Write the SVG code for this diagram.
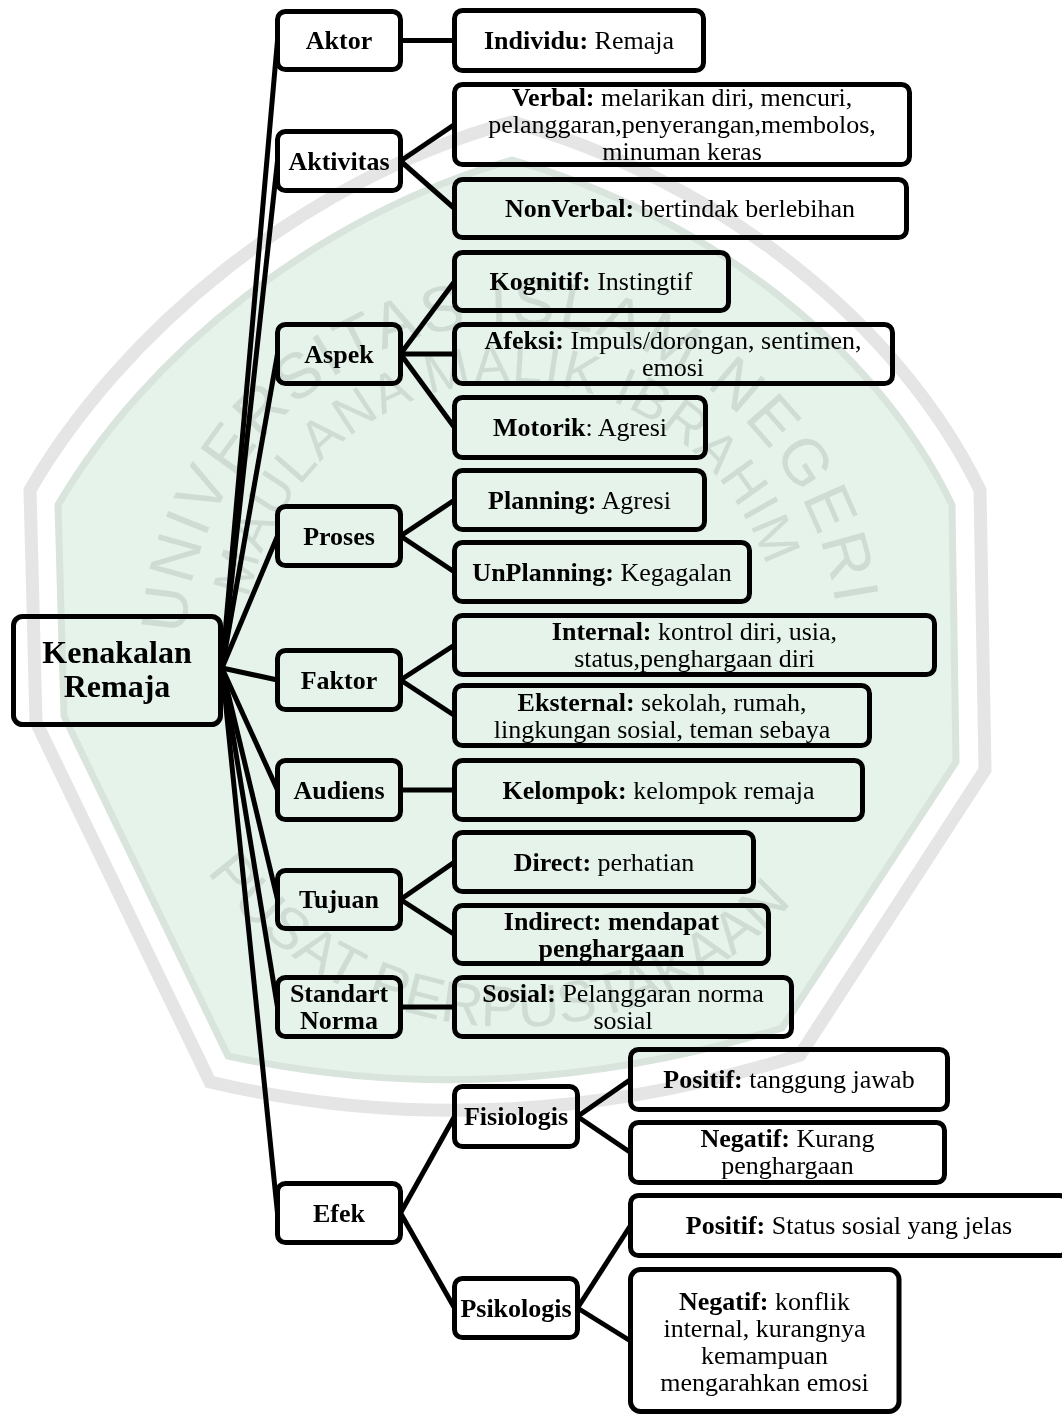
<svg xmlns="http://www.w3.org/2000/svg" width="1062" height="1415" viewBox="0 0 1062 1415">
<defs>
<style>
.box{fill:#fff;stroke:#000;stroke-width:5}
.conn line{stroke:#000;stroke-width:5;fill:none}
text{font-family:"Liberation Serif","Times New Roman",serif;font-size:26px;fill:#000;text-anchor:middle}
.b{font-weight:bold}
.root{font-size:32px;font-weight:bold}
text.wm{font-family:"Liberation Sans",Arial,sans-serif;fill:#cfdcd3;text-anchor:start}
text.wm1{font-size:64px;letter-spacing:3px}
text.wm2{font-size:54px;letter-spacing:1.5px}
text.wm3{font-size:58px}
</style>
<path id="arcOuter" d="M 185.4,634.6 A 327 327 0 0 1 839,650"/>
<path id="arcInner" d="M 248.9,598.9 A 268 268 0 0 1 779,626.6"/>
<path id="arcBottom" d="M 207,871.6 A 377 377 0 0 0 820.8,866.2"/>
</defs>
<rect width="1062" height="1415" fill="#fff"/>

<g id="connectors" class="conn">
<line x1="222" y1="668" x2="277.5" y2="40.5"/>
<line x1="222" y1="668" x2="277.5" y2="161"/>
<line x1="222" y1="668" x2="277.5" y2="354"/>
<line x1="222" y1="668" x2="277.5" y2="536"/>
<line x1="222" y1="668" x2="277.5" y2="680"/>
<line x1="222" y1="668" x2="277.5" y2="790"/>
<line x1="222" y1="668" x2="277.5" y2="899.5"/>
<line x1="222" y1="668" x2="277.5" y2="1007"/>
<line x1="222" y1="668" x2="277.5" y2="1213"/>
<line x1="400.5" y1="40.5" x2="454.5" y2="40.5"/>
<line x1="400.5" y1="161" x2="454.5" y2="124.5"/>
<line x1="400.5" y1="161" x2="454.5" y2="208.5"/>
<line x1="400.5" y1="354" x2="454.5" y2="281.5"/>
<line x1="400.5" y1="354" x2="454.5" y2="354"/>
<line x1="400.5" y1="354" x2="454.5" y2="427.5"/>
<line x1="400.5" y1="536" x2="454.5" y2="500"/>
<line x1="400.5" y1="536" x2="454.5" y2="572"/>
<line x1="400.5" y1="680" x2="454.5" y2="645"/>
<line x1="400.5" y1="680" x2="454.5" y2="715.5"/>
<line x1="400.5" y1="790" x2="454.5" y2="790"/>
<line x1="400.5" y1="899.5" x2="454.5" y2="862"/>
<line x1="400.5" y1="899.5" x2="454.5" y2="934.5"/>
<line x1="400.5" y1="1007" x2="454.5" y2="1007"/>
<line x1="400.5" y1="1213" x2="454.5" y2="1116.5"/>
<line x1="400.5" y1="1213" x2="454.5" y2="1308"/>
<line x1="577.5" y1="1116.5" x2="630.5" y2="1079.5"/>
<line x1="577.5" y1="1116.5" x2="630.5" y2="1152.5"/>
<line x1="577.5" y1="1308" x2="630.5" y2="1225.5"/>
<line x1="577.5" y1="1308" x2="630.5" y2="1341"/>
</g>

<g id="root">
<rect class="box" x="13.5" y="616.5" width="207" height="108" rx="9"/>
<text class="root" x="117" y="663">Kenakalan</text>
<text class="root" x="117" y="697">Remaja</text>
</g>

<g id="aktor"><rect class="box" x="277.5" y="11.5" width="123" height="58" rx="8"/><text class="b" x="339" y="49">Aktor</text></g>
<g id="aktivitas"><rect class="box" x="277.5" y="131.5" width="123" height="59" rx="8"/><text class="b" x="339" y="169.5">Aktivitas</text></g>
<g id="aspek"><rect class="box" x="277.5" y="324.5" width="123" height="59" rx="8"/><text class="b" x="339" y="362.5">Aspek</text></g>
<g id="proses"><rect class="box" x="277.5" y="506.5" width="123" height="59" rx="8"/><text class="b" x="339" y="544.5">Proses</text></g>
<g id="faktor"><rect class="box" x="277.5" y="650.5" width="123" height="59" rx="8"/><text class="b" x="339" y="688.5">Faktor</text></g>
<g id="audiens"><rect class="box" x="277.5" y="760.5" width="123" height="59" rx="8"/><text class="b" x="339" y="798.5">Audiens</text></g>
<g id="tujuan"><rect class="box" x="277.5" y="870.5" width="123" height="58" rx="8"/><text class="b" x="339" y="908">Tujuan</text></g>
<g id="standart"><rect class="box" x="277.5" y="977.5" width="123" height="59" rx="8"/><text class="b" x="339" y="1002">Standart</text><text class="b" x="339" y="1029">Norma</text></g>
<g id="efek"><rect class="box" x="277.5" y="1183.5" width="123" height="59" rx="8"/><text class="b" x="339" y="1221.5">Efek</text></g>

<g id="individu"><rect class="box" x="454.5" y="10.5" width="249" height="60" rx="8"/><text x="579" y="49"><tspan class="b">Individu:</tspan> Remaja</text></g>
<g id="verbal"><rect class="box" x="454.5" y="84.5" width="455" height="80" rx="8"/>
<text x="682" y="106"><tspan class="b">Verbal:</tspan> melarikan diri, mencuri,</text>
<text x="682" y="133">pelanggaran,penyerangan,membolos,</text>
<text x="682" y="160">minuman keras</text></g>
<g id="nonverbal"><rect class="box" x="454.5" y="179.5" width="452" height="58" rx="8"/><text x="680" y="217"><tspan class="b">NonVerbal:</tspan> bertindak berlebihan</text></g>
<g id="kognitif"><rect class="box" x="454.5" y="252.5" width="274" height="58" rx="8"/><text x="591" y="290"><tspan class="b">Kognitif:</tspan> Instingtif</text></g>
<g id="afeksi"><rect class="box" x="454.5" y="324.5" width="438" height="59" rx="8"/>
<text x="673" y="349"><tspan class="b">Afeksi:</tspan> Impuls/dorongan, sentimen,</text>
<text x="673" y="376">emosi</text></g>
<g id="motorik"><rect class="box" x="454.5" y="397.5" width="251" height="60" rx="8"/><text x="580" y="436"><tspan class="b">Motorik</tspan>: Agresi</text></g>
<g id="planning"><rect class="box" x="454.5" y="470.5" width="250" height="59" rx="8"/><text x="579.5" y="508.5"><tspan class="b">Planning:</tspan> Agresi</text></g>
<g id="unplanning"><rect class="box" x="454.5" y="542.5" width="295" height="59" rx="8"/><text x="602" y="580.5"><tspan class="b">UnPlanning:</tspan> Kegagalan</text></g>
<g id="internal"><rect class="box" x="454.5" y="615.5" width="480" height="59" rx="8"/>
<text x="694.5" y="640"><tspan class="b">Internal:</tspan> kontrol diri, usia,</text>
<text x="694.5" y="667">status,penghargaan diri</text></g>
<g id="eksternal"><rect class="box" x="454.5" y="685.5" width="415" height="60" rx="8"/>
<text x="662" y="710.5"><tspan class="b">Eksternal:</tspan> sekolah, rumah,</text>
<text x="662" y="737.5">lingkungan sosial, teman sebaya</text></g>
<g id="kelompok"><rect class="box" x="454.5" y="760.5" width="408" height="59" rx="8"/><text x="658.5" y="798.5"><tspan class="b">Kelompok:</tspan> kelompok remaja</text></g>
<g id="direct"><rect class="box" x="454.5" y="832.5" width="299" height="59" rx="8"/><text x="604" y="870.5"><tspan class="b">Direct:</tspan> perhatian</text></g>
<g id="indirect"><rect class="box" x="454.5" y="905.5" width="314" height="58" rx="8"/>
<text class="b" x="611.5" y="929.5">Indirect: mendapat</text>
<text class="b" x="611.5" y="956.5">penghargaan</text></g>
<g id="sosial"><rect class="box" x="454.5" y="977.5" width="337" height="59" rx="8"/>
<text x="623" y="1002"><tspan class="b">Sosial:</tspan> Pelanggaran norma</text>
<text x="623" y="1029">sosial</text></g>
<g id="fisiologis"><rect class="box" x="454.5" y="1086.5" width="123" height="60" rx="8"/><text class="b" x="516" y="1125">Fisiologis</text></g>
<g id="psikologis"><rect class="box" x="454.5" y="1278.5" width="123" height="59" rx="8"/><text class="b" x="516" y="1316.5">Psikologis</text></g>

<g id="positif1"><rect class="box" x="630.5" y="1049.5" width="317" height="60" rx="8"/><text x="789" y="1088"><tspan class="b">Positif:</tspan> tanggung jawab</text></g>
<g id="negatif1"><rect class="box" x="630.5" y="1122.5" width="314" height="60" rx="8"/>
<text x="787.5" y="1147"><tspan class="b">Negatif:</tspan> Kurang</text>
<text x="787.5" y="1174">penghargaan</text></g>
<g id="positif2"><rect class="box" x="630.5" y="1195.5" width="437" height="60" rx="8"/><text x="849" y="1234"><tspan class="b">Positif:</tspan> Status sosial yang jelas</text></g>
<g id="negatif2"><rect class="box" x="630.5" y="1269.5" width="268.5" height="142" rx="10"/>
<text x="764.5" y="1310"><tspan class="b">Negatif:</tspan> konflik</text>
<text x="764.5" y="1337">internal, kurangnya</text>
<text x="764.5" y="1364">kemampuan</text>
<text x="764.5" y="1391">mengarahkan emosi</text></g>

<g id="watermark" style="mix-blend-mode:multiply">
<path d="M 30,490 C 120,335 300,180 512,122 C 720,180 900,325 980,490 L 985,770 L 800,1055 Q 500,1150 210,1082 L 36,722 Z" fill="none" stroke="#e5e5e5" stroke-width="13"/>
<path d="M 58,505 C 145,355 318,215 512,160 C 705,215 875,345 952,505 L 956,762 L 782,1028 Q 500,1115 228,1056 L 64,716 Z" fill="#e5f3eb" stroke="#d9e4dd" stroke-width="7"/>
<text class="wm wm1"><textPath href="#arcOuter">UNIVERSITAS ISLAM NEGERI</textPath></text>
<text class="wm wm2"><textPath href="#arcInner">MAULANA MALIK IBRAHIM</textPath></text>
<text class="wm wm3"><textPath href="#arcBottom">PUSAT PERPUSTAKAAN</textPath></text>
</g>
</svg>
